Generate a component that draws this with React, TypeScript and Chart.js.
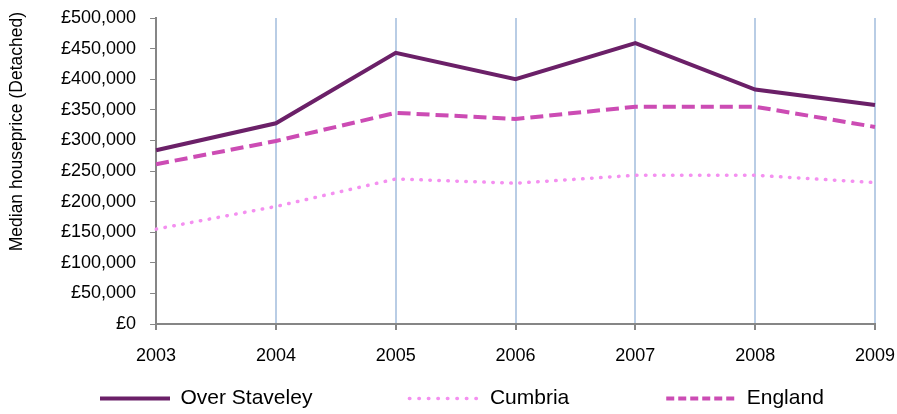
import React, { useEffect, useRef } from "react";
import { Chart, registerables } from "chart.js";

Chart.register(...registerables);

const years = ["2003", "2004", "2005", "2006", "2007", "2008", "2009"];
const overStaveley = [284000, 328000, 443000, 400000, 459000, 383000, 358000];
const cumbria = [155000, 192000, 237000, 230000, 243000, 243000, 231000];
const england = [261000, 299000, 345000, 335000, 355000, 355000, 322000];

const seriesNames = ["Over Staveley", "Cumbria", "England"];
const seriesColors = ["#6B2068", "#F490F0", "#CC4CB4"];
const lineDashes = [[], [0.5, 8.5], [13, 6]];
const legendDashes = [[], [0.5, 9], [8, 4]];

const FONT = "'Liberation Sans', Arial, sans-serif";

const LEGEND_HEIGHT = 45;
const LEGEND_ITEM_TOP = 21;
const LEGEND_LEFT_SHIFT = -3;
const TITLE_SHIFT = -6;

const legendLayoutPlugin = {
  id: "legendLayout",
  afterInit(chart: any) {
    const legend = chart.legend;
    if (!legend || legend.__patched) return;
    legend.__patched = true;
    const fit = legend.fit;
    legend.fit = function () {
      fit.call(this);
      this.height = LEGEND_HEIGHT;
    };
    const draw = legend._draw;
    legend._draw = function () {
      const t = this.top;
      const l = this.left;
      const r = this.right;
      const pad = this.options.labels.padding;
      this.top = t + LEGEND_ITEM_TOP - pad;
      this.left = l + LEGEND_LEFT_SHIFT;
      this.right = r + 5000;
      draw.call(this);
      this.top = t;
      this.left = l;
      this.right = r;
    };
  },
};

export default function App() {
  const ref = useRef<HTMLCanvasElement>(null);
  useEffect(() => {
    const ctx = ref.current!.getContext("2d")!;
    const values = [overStaveley, cumbria, england];
    const chart = new Chart(ctx, {
      type: "line",
      plugins: [legendLayoutPlugin],
      data: {
        labels: years,
        datasets: values.map((data, i) => ({
          label: seriesNames[i],
          data,
          borderColor: seriesColors[i],
          backgroundColor: seriesColors[i],
          borderWidth: i === 1 ? 3.5 : 4,
          borderDash: lineDashes[i],
          borderCapStyle: i === 1 ? "round" : "butt",
          pointRadius: 0,
          tension: 0,
        })),
      },
      options: {
        animation: false,
        responsive: true,
        maintainAspectRatio: false,
        layout: { padding: { top: 0, right: 0, left: 6, bottom: 2 } },
        plugins: {
          tooltip: { enabled: false },
          legend: {
            position: "bottom",
            align: "start",
            labels: {
              usePointStyle: true,
              pointStyle: "line",
              pointStyleWidth: 70,
              boxHeight: 21,
              padding: 97,
              color: "#000",
              font: { family: FONT, size: 21 },
              generateLabels: (c: any) =>
                c.data.datasets.map((ds: any, i: number) => ({
                  text: ds.label,
                  fillStyle: ds.borderColor,
                  strokeStyle: ds.borderColor,
                  lineWidth: i === 1 ? 3.5 : 4,
                  lineDash: legendDashes[i],
                  lineCap: i === 1 ? "round" : "butt",
                  pointStyle: "line",
                  hidden: false,
                  datasetIndex: i,
                  fontColor: "#000",
                })),
            },
          },
        },
        scales: {
          x: {
            offset: false,
            afterFit: (scale: any) => {
              scale.height = 43;
              scale.paddingRight = 22;
              scale.paddingLeft = 0;
            },
            grid: {
              color: "#B9CDE5",
              lineWidth: 2,
              tickColor: "#868686",
              tickLength: 6,
            },
            border: { color: "#868686", width: 2 },
            ticks: {
              color: "#000",
              font: { family: FONT, size: 18 },
              padding: 15,
              maxRotation: 0,
            },
          },
          y: {
            min: 0,
            max: 500000,
            afterFit: (scale: any) => {
              scale.paddingTop = 18;
              scale.paddingBottom = 0;
              if (!scale.__titlePatched) {
                scale.__titlePatched = true;
                const dt = scale.drawTitle;
                scale.drawTitle = function () {
                  this.ctx.save();
                  this.ctx.translate(0, TITLE_SHIFT);
                  dt.call(this);
                  this.ctx.restore();
                };
              }
            },
            grid: {
              drawOnChartArea: false,
              tickColor: "#868686",
              tickLength: 6,
            },
            border: { color: "#868686", width: 2 },
            ticks: {
              stepSize: 50000,
              color: "#000",
              font: { family: FONT, size: 18 },
              padding: 14,
              callback: (v: any) => "£" + Number(v).toLocaleString("en-GB"),
            },
            title: {
              display: true,
              align: "end",
              text: "Median houseprice (Detached)",
              color: "#000",
              font: { family: FONT, size: 17.5 },
              padding: { top: 1, bottom: 19 },
            },
          },
        },
      },
    });
    return () => chart.destroy();
  }, []);
  return (
    <div style={{ position: "fixed", left: 0, top: 0, width: 897, height: 414 }}>
      <canvas ref={ref} />
    </div>
  );
}
